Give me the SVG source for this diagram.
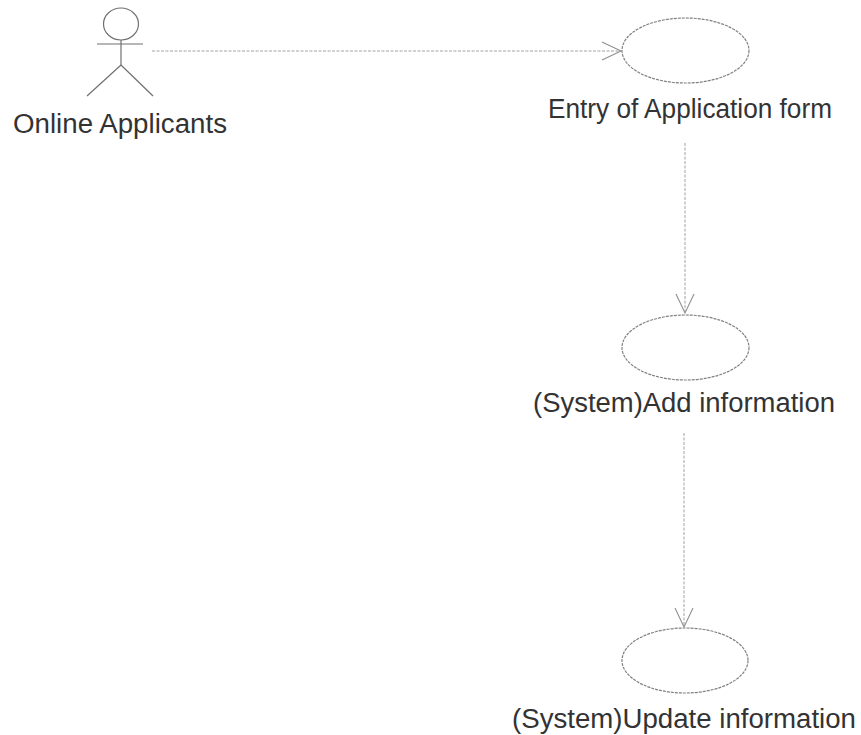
<svg xmlns="http://www.w3.org/2000/svg" width="861" height="735" viewBox="0 0 861 735">
  <defs>
    <style>
      .actor { fill: none; stroke: #707070; stroke-width: 1.2; }
      .usecase { fill: #ffffff; stroke: #808080; stroke-width: 1.2; stroke-dasharray: 3 1; }
      .link { fill: none; stroke: #a0a0a0; stroke-width: 1; stroke-dasharray: 3 1.5; }
      .label { font-family: "Liberation Sans", Arial, sans-serif; font-size: 27px; fill: #333333; }
    </style>
    <marker id="open-arrow" markerWidth="22" markerHeight="22" refX="20" refY="10" orient="auto" markerUnits="userSpaceOnUse">
      <path d="M1,1 L20,10 L1,19" fill="none" stroke="#909090" stroke-width="1.1"/>
    </marker>
  </defs>
  <rect width="861" height="735" fill="#ffffff"/>

  <!-- connectors -->
  <g id="connectors">
    <line class="link" x1="152" y1="51" x2="621" y2="51" marker-end="url(#open-arrow)"/>
    <line class="link" x1="685" y1="143" x2="685" y2="313" marker-end="url(#open-arrow)"/>
    <line class="link" x1="684" y1="433" x2="684" y2="627" marker-end="url(#open-arrow)"/>
  </g>

  <!-- actor -->
  <g id="online-applicants">
    <ellipse class="actor" cx="121" cy="24" rx="17.5" ry="16"/>
    <line class="actor" x1="97" y1="44" x2="143" y2="44"/>
    <line class="actor" x1="121" y1="40" x2="121" y2="65"/>
    <line class="actor" x1="121" y1="65" x2="87" y2="96"/>
    <line class="actor" x1="121" y1="65" x2="153" y2="96"/>
    <text class="label" x="13" y="133" textLength="214" lengthAdjust="spacingAndGlyphs">Online Applicants</text>
  </g>

  <!-- use cases -->
  <g id="entry-of-application-form">
    <ellipse class="usecase" cx="685.5" cy="50.5" rx="63.5" ry="32.5"/>
    <text class="label" x="548" y="118" textLength="284" lengthAdjust="spacingAndGlyphs">Entry of Application form</text>
  </g>

  <g id="add-information">
    <ellipse class="usecase" cx="685.5" cy="347.5" rx="63.5" ry="32.5"/>
    <text class="label" x="533" y="412" textLength="302" lengthAdjust="spacingAndGlyphs">(System)Add information</text>
  </g>

  <g id="update-information">
    <ellipse class="usecase" cx="685" cy="660.5" rx="63" ry="32.5"/>
    <text class="label" x="512" y="728" textLength="344" lengthAdjust="spacingAndGlyphs">(System)Update information</text>
  </g>
</svg>
